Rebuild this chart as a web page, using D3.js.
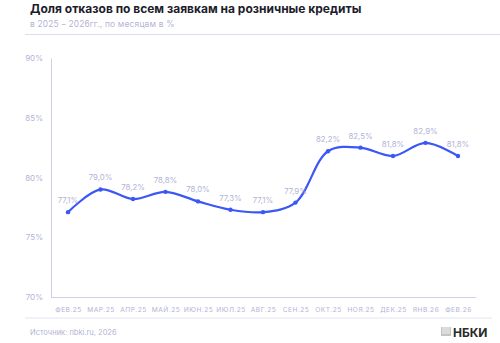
<!DOCTYPE html>
<html>
<head>
<meta charset="utf-8">
<script src="https://cdn.jsdelivr.net/npm/d3@7/dist/d3.min.js"></script>
<style>
  html, body { margin: 0; padding: 0; background: #fff; }
  svg { display: block; font-family: Inter, "Open Sans", sans-serif; }
</style>
</head>
<body>
<svg id="chart" width="500" height="343"></svg>
<script>
// Monthly share of rejected retail credit applications, %
const months = ["ФЕВ.25", "МАР.25", "АПР.25", "МАЙ.25", "ИЮН.25", "ИЮЛ.25", "АВГ.25",
                "СЕН.25", "ОКТ.25", "НОЯ.25", "ДЕК.25", "ЯНВ.26", "ФЕВ.26"];
const rejectShare = [77.1, 79.0, 78.2, 78.8, 78.0, 77.3, 77.1, 77.9, 82.2, 82.5, 81.8, 82.9, 81.8];
const yTicks = [70, 75, 80, 85, 90];

const svg = d3.select("#chart");
const lavender = "#cfcfea";
const textSoft = "#b3b3d6";
const blue = "#3b57f5";

// Header
svg.append("text").attr("x", 30).attr("y", 13)
  .attr("font-size", 12).attr("font-weight", 700).attr("fill", "#1d1d2b")
  .text("Доля отказов по всем заявкам на розничные кредиты");
svg.append("text").attr("x", 30).attr("y", 27)
  .attr("font-size", 8.4).attr("letter-spacing", 0.2).attr("fill", textSoft)
  .text("в 2025 – 2026гг., по месяцам в %");
svg.append("line").attr("x1", 25).attr("x2", 500).attr("y1", 34.5).attr("y2", 34.5)
  .attr("stroke", "#dcdcef").attr("stroke-width", 1);

// Scales
const x = d3.scalePoint().domain(months).range([68, 458]);
const y = d3.scaleLinear().domain([70, 90]).range([297, 58]);

// Axes
const yAxis = svg.append("g").attr("transform", "translate(51,0)")
  .call(d3.axisLeft(y).tickValues(yTicks).tickSize(0).tickPadding(8).tickFormat(d => d + "%"));
yAxis.select(".domain").attr("stroke", lavender);
yAxis.selectAll("text").attr("fill", textSoft).attr("font-size", 8).attr("font-family", "Inter, sans-serif");

const xAxis = svg.append("g").attr("transform", "translate(0,297)")
  .call(d3.axisBottom(x).tickSize(0).tickPadding(10));
xAxis.select(".domain").attr("d", "M51,0.5H476").attr("stroke", lavender);
xAxis.selectAll("text").attr("fill", textSoft).attr("font-size", 6.6)
  .attr("letter-spacing", 0.5).attr("font-family", "Inter, sans-serif");

// Line
const line = d3.line()
  .x((d, i) => x(months[i]))
  .y(d => y(d))
  .curve(d3.curveCatmullRom.alpha(0.5));
svg.append("path").datum(rejectShare)
  .attr("d", line).attr("fill", "none")
  .attr("stroke", blue).attr("stroke-width", 2.2);

svg.selectAll("circle.pt").data(rejectShare).enter().append("circle")
  .attr("class", "pt")
  .attr("cx", (d, i) => x(months[i])).attr("cy", d => y(d)).attr("r", 2.2)
  .attr("fill", blue);

const fmt = v => v.toFixed(1).replace(".", ",") + "%";
svg.selectAll("text.val").data(rejectShare).enter().append("text")
  .attr("class", "val")
  .attr("x", (d, i) => x(months[i]))
  .attr("y", d => y(d) - 9)
  .attr("text-anchor", "middle")
  .attr("font-size", 7.8).attr("fill", textSoft)
  .text(fmt);

// Footer
svg.append("line").attr("x1", 25).attr("x2", 492).attr("y1", 318).attr("y2", 318)
  .attr("stroke", "#e3e3ef").attr("stroke-width", 1);
svg.append("text").attr("x", 30).attr("y", 335)
  .attr("font-size", 7.5).attr("fill", textSoft)
  .text("Источник: nbki.ru, 2026");

// Logo mark
const logo = svg.append("g").attr("transform", "translate(441,328)");
logo.append("rect").attr("x", 0).attr("y", -1).attr("width", 10).attr("height", 9).attr("fill", "#c4c4c4");
for (let i = 1; i < 5; i++) {
  logo.append("line").attr("x1", i * 2).attr("x2", i * 2).attr("y1", -1).attr("y2", 6)
    .attr("stroke", "#fff").attr("stroke-width", 0.8);
}
svg.append("text").attr("x", 453).attr("y", 337)
  .attr("font-size", 12).attr("font-weight", 700).attr("fill", "#2a2a2a")
  .text("НБКИ");
</script>
</body>
</html>
